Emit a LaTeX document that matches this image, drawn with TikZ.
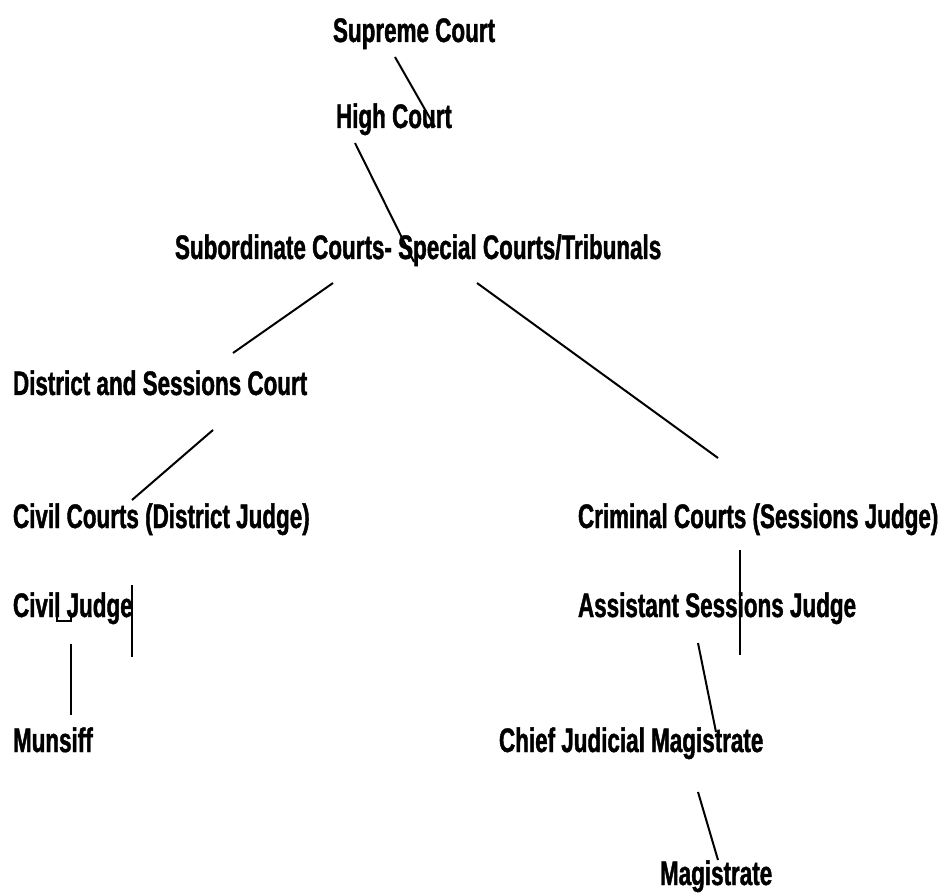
\documentclass[tikz,border=0pt]{standalone}
\usepackage{fontspec}
\newfontfamily\lblfont{Liberation Sans}[FakeStretch=0.66,FakeBold=1.2]
\begin{document}
\begin{tikzpicture}[x=1pt,y=-1pt,
  lbl/.style={anchor=base west,inner sep=0pt,outer sep=0pt,
    font=\lblfont\bfseries\fontsize{34}{40}\selectfont},
  conn/.style={line width=2pt,line cap=butt}]
\useasboundingbox[fill=white] (0,0) rectangle (940,893);
% nodes
\node[lbl] (sc)  at (333,42)  {Supreme Court};
\node[lbl] (hc)  at (336,128) {High Court};
\node[lbl] (sub) at (175,259) {Subordinate Courts- Special Courts/Tribunals};
\node[lbl] (dsc) at (13,395)  {District and Sessions Court};
\node[lbl] (cc)  at (13,528)  {Civil Courts (District Judge)};
\node[lbl] (crc) at (578,528) {Criminal Courts (Sessions Judge)};
\node[lbl] (cj)  at (13,617)  {Civil Judge};
\node[lbl] (asj) at (578,617) {Assistant Sessions Judge};
\node[lbl] (mun) at (13,752)  {Munsiff};
\node[lbl] (cjm) at (499,752) {Chief Judicial Magistrate};
\node[lbl] (mag) at (660,885) {Magistrate};
% connector end points
\coordinate (a1) at (395,57);  \coordinate (a2) at (435,127);
\coordinate (b1) at (355,143); \coordinate (b2) at (414,262);
\coordinate (c1) at (333,283); \coordinate (c2) at (233,353);
\coordinate (d1) at (477,283); \coordinate (d2) at (718,458);
\coordinate (e1) at (213,430); \coordinate (e2) at (132,500);
\coordinate (f1) at (71,644);  \coordinate (f2) at (71,715);
\coordinate (g1) at (132,585); \coordinate (g2) at (132,657);
\coordinate (h1) at (740,550); \coordinate (h2) at (740,655);
\coordinate (i1) at (698,643); \coordinate (i2) at (716,732);
\coordinate (j1) at (698,792); \coordinate (j2) at (718,860);
\coordinate (k1) at (57,606);  \coordinate (k2) at (57,621);
\coordinate (k3) at (71,621);  \coordinate (k4) at (71,613);
% connectors
\draw[conn] (a1) -- (a2);
\draw[conn] (b1) -- (b2);
\draw[conn] (c1) -- (c2);
\draw[conn] (d1) -- (d2);
\draw[conn] (e1) -- (e2);
\draw[conn] (f1) -- (f2);
\draw[conn] (g1) -- (g2);
\draw[conn] (h1) -- (h2);
\draw[conn] (i1) -- (i2);
\draw[conn] (j1) -- (j2);
\draw[conn] (k1) -- (k2) -- (k3) -- (k4);
\end{tikzpicture}
\end{document}
